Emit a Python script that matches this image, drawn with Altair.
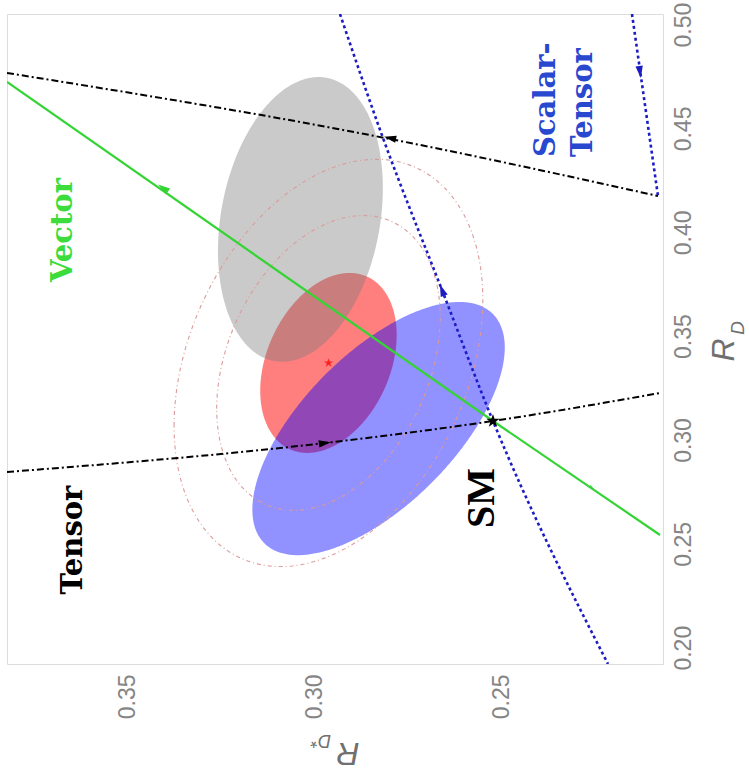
import altair as alt
import numpy as np
import pandas as pd

# ---------------- data ----------------
RDS_DOMAIN = [0.20695, 0.38235]      # R_D*  (drawn horizontally, decreasing to the right)
RD_DOMAIN = [0.19215, 0.50510]       # R_D   (drawn vertically, right-hand axis)
RDS_TICKS = [0.25, 0.30, 0.35]
RD_TICKS = [0.20, 0.25, 0.30, 0.35, 0.40, 0.45, 0.50]

# measurements: centre, uncertainties and correlation
ell_names = ["average", "gray", "belle"]
ell_rds = [0.2964, 0.3039, 0.2830]
ell_rd = [0.3371, 0.4062, 0.3055]
ell_srds = [0.0120, 0.0145, 0.0222]
ell_srd = [0.0285, 0.0451, 0.0401]
ell_rho = [-0.31, -0.22, -0.64]
k_fill = 1.52                 # sqrt(2.30): 68% CL in 2D
k_contours = [2.49, 3.44]     # sqrt(6.18), sqrt(11.83)

# new-physics trajectories
tensor_hi_rds = [0.38235, 0.28128, 0.20829]
tensor_hi_rd = [0.47670, 0.44540, 0.41748]
tensor_lo_rds = [0.38235, 0.29733, 0.25241, 0.20775]
tensor_lo_rd = [0.28459, 0.29856, 0.30915, 0.32263]
vector_rds = [0.38235, 0.25241, 0.20775]
vector_rd = [0.47236, 0.30915, 0.25426]
st_rds = [0.29332, 0.28182, 0.26604, 0.25241, 0.22166]
st_rd = [0.50510, 0.44540, 0.37222, 0.30915, 0.19215]
st2_rds = [0.21524, 0.20829]
st2_rd = [0.50510, 0.41748]

# arrow heads along the trajectories
arrow_rds = [0.34064, 0.26604, 0.21310, 0.27995, 0.29733, 0.22594]
arrow_rd = [0.42133, 0.37222, 0.47718, 0.44540, 0.29856, 0.27689]
arrow_kind = ["vector", "st", "st", "tensor", "tensor", "vector"]
arrow_angle = [305, 339, 172, 282, 82, 125]
arrow_size = [150, 150, 150, 150, 150, 30]

# points
sm_rds, sm_rd = [0.25241], [0.30915]
avg_rds, avg_rd = [0.29639], [0.33707]

# labels
lab_text = ["Vector", "Scalar-", "Tensor", "Tensor"]
lab_rds = [0.36738, 0.23824, 0.22834, 0.36471]
lab_rd = [0.40111, 0.43626, 0.43626, 0.25185]
lab_kind = ["vector", "st", "st", "tensor"]
lab_align = ["center", "left", "left", "center"]
sm_label_rds, sm_label_rd = [0.25535], [0.27208]

LABEL_FONT = "DejaVu Serif"

# ---------------- helpers ----------------
xscale = alt.Scale(domain=RDS_DOMAIN, reverse=True, zero=False, nice=False)
yscale = alt.Scale(domain=RD_DOMAIN, zero=False, nice=False)
xaxis = alt.Axis(values=RDS_TICKS, format=".2f", orient="bottom", labelAngle=270,
                 labelFontSize=23, labelColor="#858585", labelFont="Liberation Sans",
                 ticks=False, domain=False, grid=False, title=None, labelPadding=10,
                 labelFlush=False, labelOverlap=False)
yaxis = alt.Axis(values=RD_TICKS, format=".2f", orient="right", labelAngle=270,
                 labelAlign="center", labelBaseline="top",
                 labelFontSize=23, labelColor="#858585", labelFont="Liberation Sans",
                 ticks=False, domain=False, grid=False, title=None, labelPadding=9,
                 labelFlush=False, labelOverlap=False)


def X(field):
    return alt.X(field, type="quantitative", scale=xscale, axis=xaxis)


def Y(field):
    return alt.Y(field, type="quantitative", scale=yscale, axis=yaxis)


def ellipse_band(i, k):
    s = np.linspace(0, np.pi, 241)
    a, b, r = k * ell_srds[i], k * ell_srd[i], ell_rho[i]
    c, sn = np.cos(s), np.sin(s)
    q = np.sqrt(1 - r * r)
    return pd.DataFrame({
        "rd": ell_rd[i] + b * c,
        "lo": ell_rds[i] + a * (r * c - q * sn),
        "hi": ell_rds[i] + a * (r * c + q * sn),
    })


def ellipse_outline(i, k, lvl):
    t = np.linspace(0, 2 * np.pi, 241)
    a, b, r = k * ell_srds[i], k * ell_srd[i], ell_rho[i]
    return pd.DataFrame({
        "rds": ell_rds[i] + a * np.cos(t),
        "rd": ell_rd[i] + b * (r * np.cos(t) + np.sqrt(1 - r * r) * np.sin(t)),
        "idx": np.arange(len(t)),
        "lvl": lvl,
    })


fill_style = {"average": ("#ff0000", 0.5), "gray": ("#7a7a7a", 0.40), "belle": ("#0000ff", 0.43)}
layers = []
for name in ["average", "gray", "belle"]:
    i = ell_names.index(name)
    col, op = fill_style[name]
    layers.append(
        alt.Chart(ellipse_band(i, k_fill)).mark_area(orient="horizontal", color=col, opacity=op, clip=True)
        .encode(y=Y("rd"), x=X("lo"), x2="hi")
    )

cont = pd.concat([ellipse_outline(0, k, j) for j, k in enumerate(k_contours)])
layers.append(
    alt.Chart(cont).mark_line(color="#dc9a9a", strokeWidth=1.1, strokeDash=[4, 3, 1, 3], clip=True)
    .encode(x=X("rds"), y=Y("rd"), order="idx:Q", detail="lvl:N")
)

# trajectories
def seg(rds, rd, sid):
    return pd.DataFrame({"rds": rds, "rd": rd, "idx": range(len(rds)), "seg": sid})

black = pd.concat([seg(tensor_hi_rds, tensor_hi_rd, "a"), seg(tensor_lo_rds, tensor_lo_rd, "b")])
blue = pd.concat([seg(st_rds, st_rd, "a"), seg(st2_rds, st2_rd, "b")])
green = seg(vector_rds, vector_rd, "a")

layers.append(
    alt.Chart(black).mark_line(color="black", strokeWidth=2, strokeDash=[7, 3, 2, 3],
                               interpolate="monotone", clip=True)
    .encode(x=X("rds"), y=Y("rd"), order="idx:Q", detail="seg:N")
)
layers.append(
    alt.Chart(blue).mark_line(color="#1c1cc4", strokeWidth=2.6, strokeDash=[3, 3],
                              interpolate="monotone", clip=True)
    .encode(x=X("rds"), y=Y("rd"), order="idx:Q", detail="seg:N")
)
layers.append(
    alt.Chart(green).mark_line(color="#35d435", strokeWidth=2.2, clip=True)
    .encode(x=X("rds"), y=Y("rd"), order="idx:Q")
)

# arrow heads
arrows = pd.DataFrame({"rds": arrow_rds, "rd": arrow_rd, "kind": arrow_kind,
                       "angle": arrow_angle, "size": arrow_size})
kind_scale = alt.Scale(domain=["vector", "st", "tensor"], range=["#35d435", "#1c1cc4", "black"])
layers.append(
    alt.Chart(arrows).mark_point(shape="M0,-1L0.6,1L-0.6,1Z", filled=True, opacity=1, clip=True)
    .encode(x=X("rds"), y=Y("rd"),
            color=alt.Color("kind:N", scale=kind_scale, legend=None),
            angle=alt.Angle("angle:Q", scale=None),
            size=alt.Size("size:Q", scale=None, legend=None))
)

STAR = "M0,-1L0.224,-0.309L0.951,-0.309L0.363,0.118L0.588,0.809L0,0.382L-0.588,0.809L-0.363,0.118L-0.951,-0.309L-0.224,-0.309Z"
layers.append(
    alt.Chart(pd.DataFrame({"rds": sm_rds, "rd": sm_rd})).mark_point(
        shape=STAR, filled=True, color="black", size=200, opacity=1)
    .encode(x=X("rds"), y=Y("rd"))
)
layers.append(
    alt.Chart(pd.DataFrame({"rds": avg_rds, "rd": avg_rd})).mark_point(
        shape=STAR, filled=True, color="#ff2020", size=90, opacity=1)
    .encode(x=X("rds"), y=Y("rd"))
)

# text labels
labs = pd.DataFrame({"rds": lab_rds, "rd": lab_rd, "text": lab_text, "kind": lab_kind})
label_colors = {"vector": "#3ddc3d", "st": "#2848d0", "tensor": "black"}
for i in range(len(lab_text)):
    layers.append(
        alt.Chart(labs.iloc[[i]]).mark_text(angle=270, font=LABEL_FONT, fontSize=29,
                                             fontWeight="bold", align=lab_align[i], baseline="middle",
                                             color=label_colors[lab_kind[i]])
        .encode(x=X("rds"), y=Y("rd"), text="text:N")
    )
layers.append(
    alt.Chart(pd.DataFrame({"rds": sm_label_rds, "rd": sm_label_rd, "text": ["SM"]}))
    .mark_text(angle=270, font="Liberation Serif", fontSize=40, fontWeight="bold",
               align="center", baseline="middle", color="black")
    .encode(x=X("rds"), y=Y("rd"), text="text:N")
)

# axis titles (R_{D*} upside down at the bottom, R_D on the right)
def title_piece(txt, px, py, size, angle):
    return alt.Chart(pd.DataFrame({"t": [txt]})).mark_text(
        angle=angle, font="Liberation Sans", fontStyle="italic", fontSize=size,
        color="#707070", align="center", baseline="middle"
    ).encode(x=alt.value(px - 7), y=alt.value(py - 14), text="t:N")

layers += [
    title_piece("R", 348, 753, 32, 180),
    title_piece("D*", 321, 740, 18, 180),
    title_piece("R", 724, 350, 32, 270),
    title_piece("D", 738, 328, 19, 270),
]

chart = alt.layer(*layers).properties(
    width=656, height=650,
    autosize=alt.AutoSizeParams(type="none"),
    padding={"left": 7, "top": 14, "right": 86, "bottom": 118},
).configure_view(stroke="#444444", strokeWidth=1.6).configure(background="white")

chart.save("out.html", embed_options={"renderer": "svg", "actions": False})
